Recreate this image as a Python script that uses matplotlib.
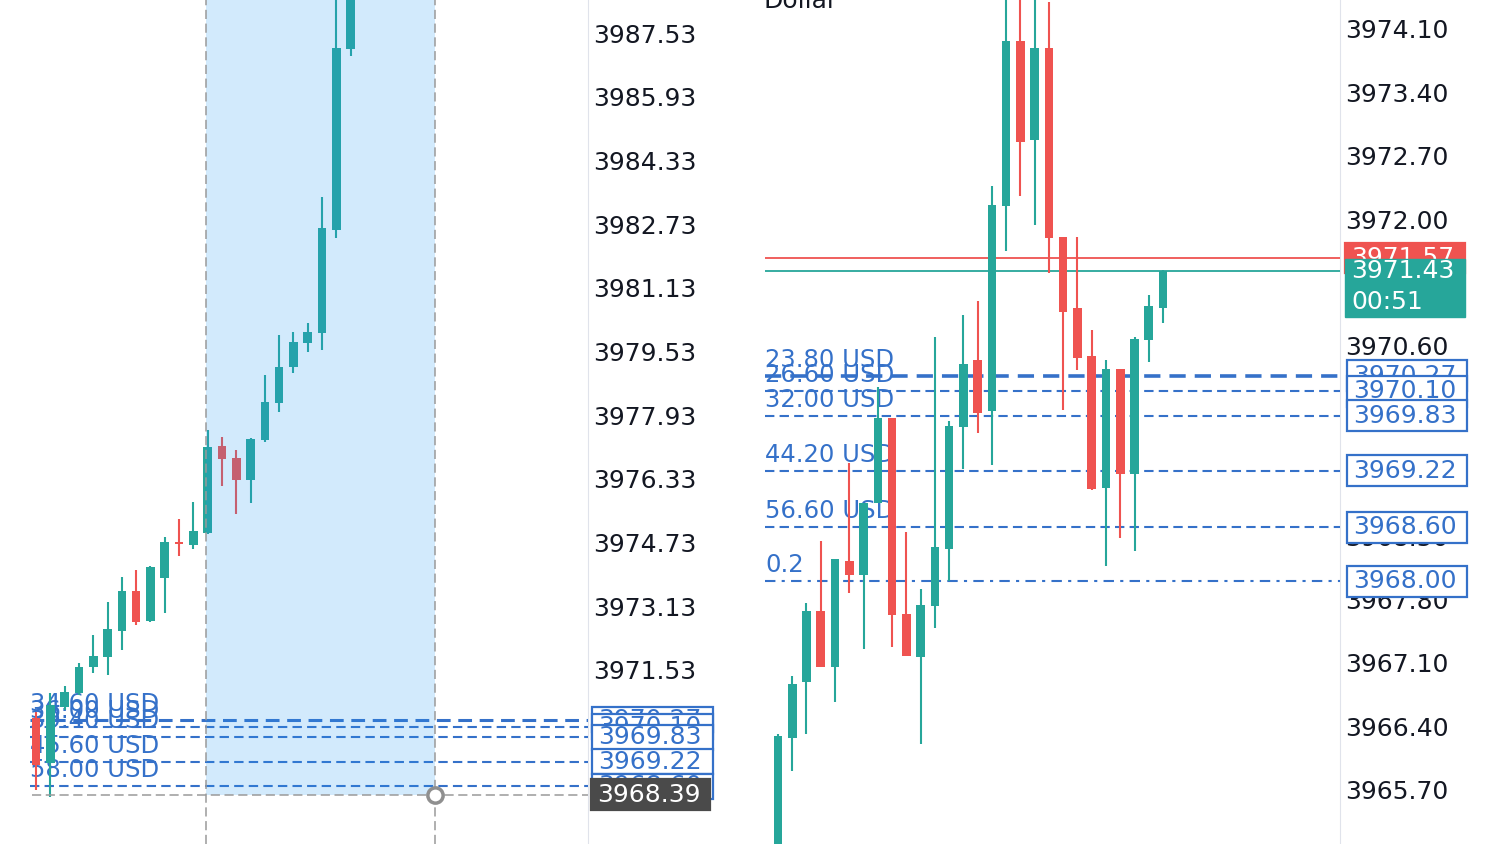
import matplotlib
matplotlib.use("Agg")
import matplotlib.pyplot as plt
import numpy as np
from matplotlib.patches import Rectangle
from matplotlib.transforms import IdentityTransform

GREEN = "#26a69a"
RED = "#ef5350"
BLUE = "#3571c9"
GREY = "#9a9a9a"
TXT = "#131722"

# left panel candles (prices)
left_open = [3970.32, 3969.19, 3970.60, 3970.95, 3971.60, 3971.85, 3972.50, 3973.51, 3972.76, 3973.84,
             3974.74, 3974.67, 3974.97, 3977.15, 3976.85, 3976.30, 3977.30, 3978.23, 3979.14, 3979.74,
             3980.00, 3982.58, 3987.13]
left_high = [3970.47, 3970.95, 3971.12, 3971.70, 3972.40, 3973.23, 3973.86, 3974.04, 3974.14, 3974.87,
             3975.32, 3975.75, 3977.56, 3977.38, 3977.05, 3977.35, 3978.94, 3979.94, 3980.02, 3980.24,
             3983.41, 3988.60, 3989.30]
left_low = [3968.51, 3968.33, 3970.52, 3970.90, 3971.45, 3971.40, 3972.03, 3972.66, 3972.73, 3972.96,
            3974.39, 3974.57, 3974.94, 3976.15, 3975.44, 3975.72, 3977.25, 3978.01, 3978.99, 3979.51,
            3979.56, 3982.38, 3986.95]
left_close = [3969.14, 3970.65, 3970.97, 3971.60, 3971.88, 3972.56, 3973.51, 3972.73, 3974.11, 3974.74,
              3974.69, 3975.02, 3977.13, 3976.83, 3976.30, 3977.33, 3978.26, 3979.14, 3979.77, 3980.02,
              3982.63, 3987.15, 3988.90]

# right panel candles
right_open = [3964.49, 3966.27, 3966.89, 3967.67, 3967.05, 3968.23, 3968.07, 3968.87, 3969.80, 3967.64,
              3967.16, 3967.73, 3968.36, 3969.71, 3970.44, 3969.88, 3972.14, 3973.97, 3972.87, 3973.89,
              3971.80, 3971.02, 3970.49, 3969.03, 3970.35, 3969.19, 3970.67, 3971.02]
right_high = [3966.31, 3966.95, 3967.76, 3968.45, 3968.25, 3969.31, 3968.87, 3970.15, 3969.80, 3968.55,
              3967.92, 3970.70, 3969.77, 3970.94, 3971.10, 3972.37, 3974.60, 3974.70, 3974.60, 3974.40,
              3971.80, 3971.80, 3970.78, 3970.45, 3970.35, 3970.70, 3971.16, 3971.44]
right_low = [3964.40, 3965.91, 3966.32, 3967.05, 3966.67, 3967.87, 3967.25, 3968.87, 3967.27, 3967.18,
             3966.20, 3967.49, 3968.00, 3969.24, 3969.64, 3969.28, 3971.65, 3972.26, 3971.94, 3971.40,
             3969.89, 3970.33, 3969.01, 3968.17, 3968.48, 3968.33, 3970.42, 3970.85]
right_close = [3966.29, 3966.87, 3967.67, 3967.05, 3968.25, 3968.07, 3968.87, 3969.80, 3967.63, 3967.18,
               3967.74, 3968.38, 3969.72, 3970.40, 3969.86, 3972.16, 3973.97, 3972.85, 3973.89, 3971.79,
               3970.98, 3970.47, 3969.02, 3970.35, 3969.19, 3970.68, 3971.04, 3971.43]

# order levels
level_prices = [3970.27, 3970.10, 3969.83, 3969.22, 3968.60, 3968.00]
level_labels_right = ["23.80 USD", "26.60 USD", "32.00 USD", "44.20 USD", "56.60 USD", "0.2"]
level_labels_left = ["34.60 USD", "36.00 USD", "39.40 USD", "45.60 USD", "58.00 USD"]

left_ticks = [3987.53, 3985.93, 3984.33, 3982.73, 3981.13, 3979.53, 3977.93, 3976.33, 3974.73,
              3973.13, 3971.53, 3969.93, 3968.33]
right_ticks = [3974.10, 3973.40, 3972.70, 3972.00, 3971.30, 3970.60, 3969.90, 3969.20, 3968.50,
               3967.80, 3967.10, 3966.40, 3965.70]

measure_price = 3968.39
measure_start, measure_end = 11.9, 27.9
bid, ask = 3971.43, 3971.57

W, H = 1500, 844
fig = plt.figure(figsize=(15, 8.44), dpi=100)
axL = fig.add_axes([0, 0, 588 / W, 1])
axR = fig.add_axes([765 / W, 0, (1340 - 765) / W, 1])

axL.set_xlim(-2.52, 38.6)
axL.set_ylim(3967.15, 3988.36)
axR.set_xlim(-0.91, 39.41)
axR.set_ylim(3965.10, 3974.42)


def candles(ax, o, h, l, c):
    o, h, l, c = map(np.asarray, (o, h, l, c))
    x = np.arange(len(o))
    col = np.where(c >= o, GREEN, RED)
    ax.vlines(x, l, h, colors=col, lw=1.5, zorder=5)
    ax.bar(x, np.maximum(np.abs(c - o), 0.04), bottom=np.minimum(o, c), width=0.6,
           color=col, zorder=6)


for ax, ticks in ((axL, left_ticks), (axR, right_ticks)):
    for s in ("left", "top", "bottom"):
        ax.spines[s].set_visible(False)
    ax.spines["right"].set_color("#e0e3eb")
    ax.set_xticks([])
    ax.yaxis.tick_right()
    ax.set_yticks(ticks)
    ax.set_yticklabels(["%.2f" % t for t in ticks])
    ax.tick_params(axis="y", length=0, pad=4, labelsize=18, labelcolor=TXT)

candles(axL, left_open, left_high, left_low, left_close)
candles(axR, right_open, right_high, right_low, right_close)

# left: order lines and labels
for i, (p, lab) in enumerate(zip(level_prices[:5], level_labels_left)):
    axL.hlines(p, -0.42, 38.6, colors=BLUE, lw=2.2 if i == 0 else 1.5,
               linestyles=(0, (4.5, 2.5)), zorder=4)
    axL.annotate(lab, (-0.42, p), xytext=(0, 4), textcoords="offset pixels",
                 fontsize=17.5, color=BLUE, va="bottom", zorder=4)

# right: order lines and labels
for i, (p, lab) in enumerate(zip(level_prices, level_labels_right)):
    if lab == "0.2":
        ls = (0, (5, 3, 1.5, 3))
    else:
        ls = (0, (4.5, 2.5))
    axR.axhline(p, color=BLUE, lw=2.6 if i == 0 else 1.5, ls=ls, zorder=4)
    axR.annotate(lab, (-0.91, p), xytext=(0, 4), textcoords="offset pixels",
                 fontsize=17.5, color=BLUE, va="bottom", zorder=4)

axR.axhline(ask, color=RED, lw=1.3, zorder=3)
axR.axhline(bid, color=GREEN, lw=1.3, zorder=3)

# left: measuring range
axL.fill_between([measure_start, measure_end], measure_price, 3988.36,
                 color="#2196f3", alpha=0.2, lw=0, zorder=7)
for xv in (measure_start, measure_end):
    axL.axvline(xv, color=GREY, lw=1.1, ls=(0, (6, 3)), zorder=8)
axL.hlines(measure_price, -0.3, 38.6, colors=GREY, lw=1.1, linestyles=(0, (6, 3)), zorder=8)
axL.plot(measure_end, measure_price, "o", ms=11, mfc="white", mec="#8f8f8f", mew=2.5,
         zorder=9, clip_on=False)

idt = IdentityTransform()
z = [20]


def box(ax, price, text, x0, w, h, fc, ec, tc):
    y = ax.transData.transform((0, price))[1]
    z[0] += 1
    fig.add_artist(Rectangle((x0, y - h / 2), w, h, transform=idt, fc=fc, ec=ec,
                             lw=1.6, zorder=z[0]))
    fig.text(x0 + 6, y, text, transform=idt, fontsize=18, color=tc, va="center",
             zorder=z[0] + 0.5)
    return y


for p in level_prices[:5]:
    box(axL, p, "%.2f" % p, 592, 121, 25, "white", BLUE, BLUE)
box(axL, measure_price, "%.2f" % measure_price, 591, 119, 31, "#4a4a4a", "#4a4a4a", "white")

for p in level_prices:
    box(axR, p, "%.2f" % p, 1347, 120, 31, "white", BLUE, BLUE)

box(axR, ask, "%.2f" % ask, 1345, 120, 30, RED, RED, "white")
yb = axR.transData.transform((0, bid))[1]
z[0] += 1
fig.add_artist(Rectangle((1345, yb - 46), 120, 58, transform=idt, fc=GREEN, ec=GREEN,
                         lw=1, zorder=z[0]))
fig.text(1351, yb, "%.2f" % bid, transform=idt, fontsize=18, color="white", va="center",
         zorder=z[0] + 0.5)
fig.text(1351, yb - 31, "00:51", transform=idt, fontsize=18, color="white", va="center",
         zorder=z[0] + 0.5)

fig.text(763, H - 8, "Dollar", transform=idt, fontsize=18, color=TXT, va="baseline")

fig.savefig("out.png", dpi=100)
